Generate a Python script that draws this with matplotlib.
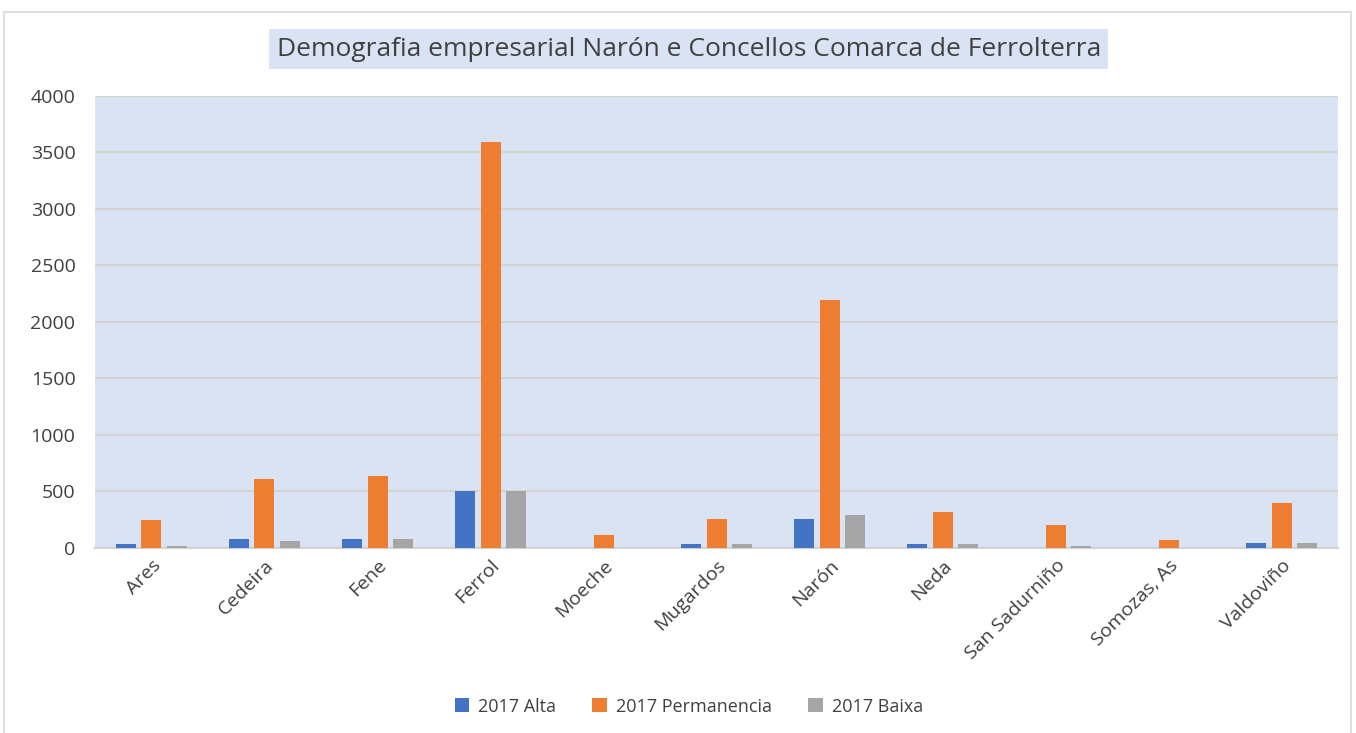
import matplotlib.pyplot as plt
import numpy as np
from matplotlib.patches import Rectangle

plt.rcParams['font.family'] = ['Open Sans', 'DejaVu Sans']

concellos = ['Ares', 'Cedeira', 'Fene', 'Ferrol', 'Moeche', 'Mugardos',
             'Narón', 'Neda', 'San Sadurniño', 'Somozas, As', 'Valdoviño']
alta = [35, 80, 80, 500, 0, 35, 257, 35, 0, 0, 45]
permanencia = [245, 610, 640, 3590, 115, 257, 2190, 320, 205, 68, 400]
baixa = [18, 65, 80, 500, 0, 35, 292, 35, 18, 0, 45]
series = ['2017 Alta', '2017 Permanencia', '2017 Baixa']
colors = ['#4472C4', '#ED7D31', '#A5A5A5']

fig = plt.figure(figsize=(13.56, 7.33), dpi=100)
ax = fig.add_axes([0.070, 0.2524, 0.917, 0.6167])

# outer chart border
fig.patches.append(Rectangle((0.003, -0.01), 0.993, 0.993, transform=fig.transFigure,
                             fill=False, edgecolor='#D9D9D9', linewidth=1.2))

x = np.arange(len(concellos))
step = 0.226
width = 0.177
for i, (vals, name, col) in enumerate(zip([alta, permanencia, baixa], series, colors)):
    ax.bar(x + (i - 1) * step, vals, width, color=col, label=name, zorder=3)

ax.set_facecolor('#DAE3F3')
ax.set_xlim(-0.5, len(concellos) - 0.5)
ax.set_ylim(0, 4000)
ax.set_yticks(range(0, 4001, 500))
ax.yaxis.grid(True, color='#D3D3D3', linewidth=1.5, zorder=0)
ax.set_axisbelow(True)
for s in ['top', 'right', 'left']:
    ax.spines[s].set_visible(False)
ax.spines['bottom'].set_color('#D3D3D3')
ax.spines['bottom'].set_linewidth(1.5)
ax.tick_params(axis='both', length=0, labelsize=14, colors='#404040')
ax.tick_params(axis='y', pad=14)
ax.tick_params(axis='x', pad=6)
ax.set_xticks(x)
ax.set_xticklabels(concellos, rotation=45, ha='right', rotation_mode='anchor')

fig.text(0.508, 0.933, 'Demografia empresarial Narón e Concellos Comarca de Ferrolterra',
         ha='center', va='center', fontsize=19, color='#404040',
         bbox=dict(boxstyle='square,pad=0.28', facecolor='#DAE3F3', edgecolor='none'))

fig.legend(loc='center', bbox_to_anchor=(0.508, 0.036), ncol=3, frameon=False,
           fontsize=13, handlelength=0.8, handleheight=0.8, columnspacing=2.0,
           handletextpad=0.5, labelcolor='#404040')

fig.savefig('out.png', dpi=100)
